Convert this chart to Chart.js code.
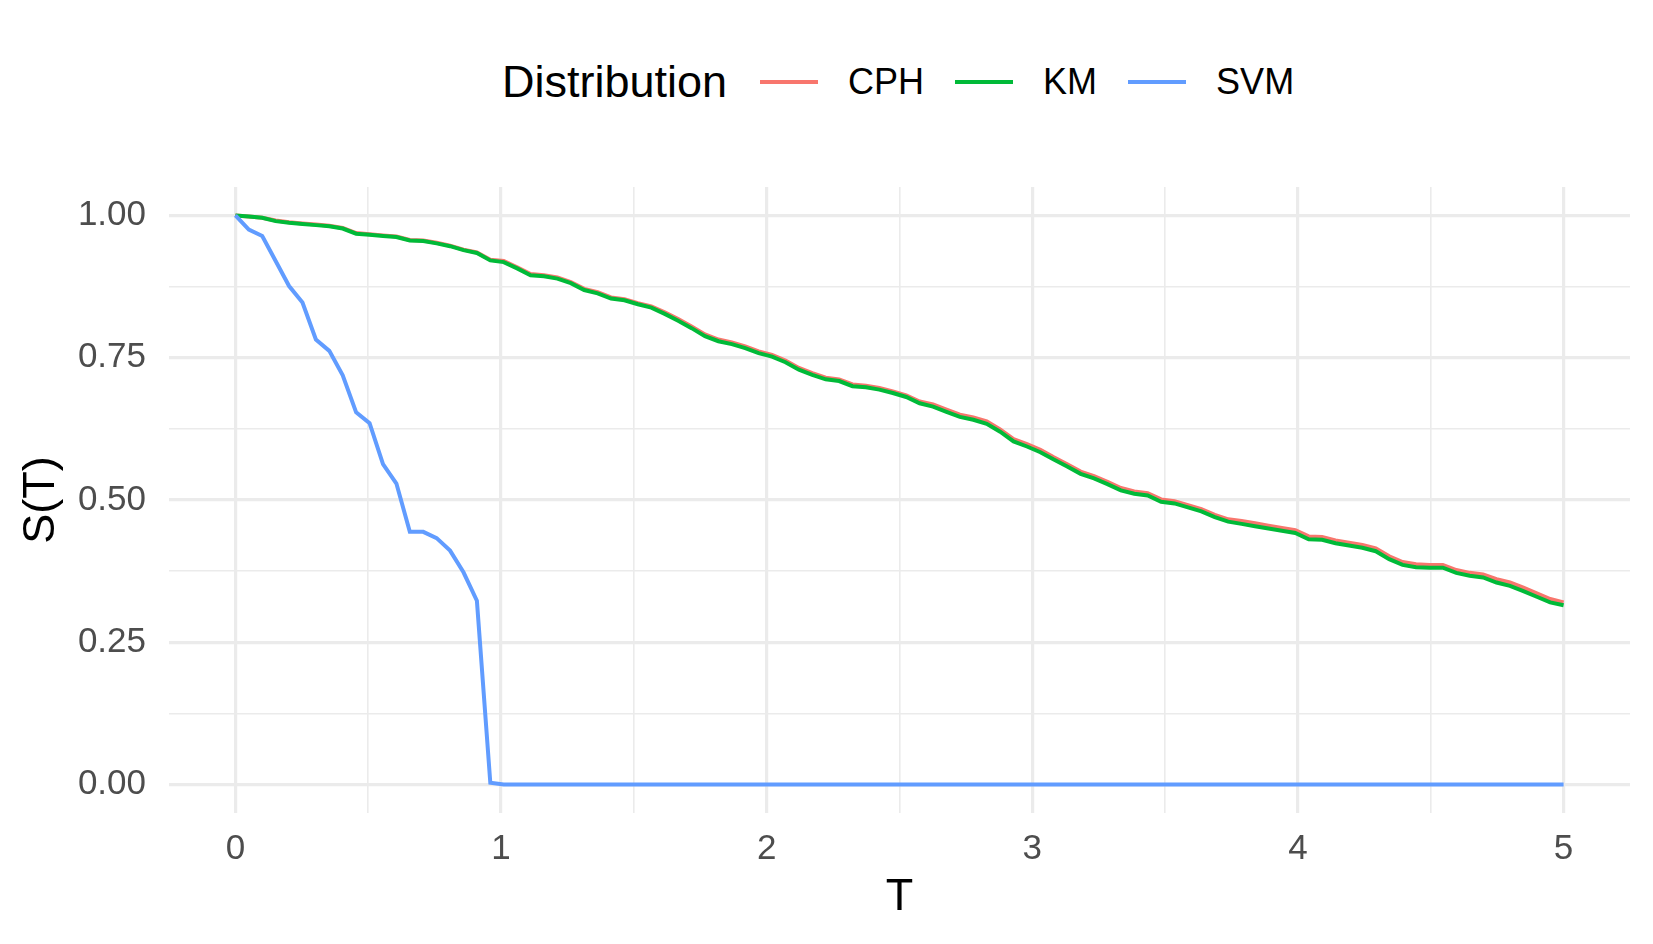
<!DOCTYPE html>
<html>
<head>
<meta charset="utf-8">
<title>S(T)</title>
<script src="https://cdn.jsdelivr.net/npm/chart.js@4.4.1/dist/chart.umd.min.js"></script>
<style>
  body { margin: 0; background: #fff; }
  #wrap { position: relative; width: 1653px; height: 944px; font-family: "Liberation Sans", Arial, sans-serif; }
  #legend { position: absolute; left: 502px; top: 52px; height: 60px; display: flex; align-items: center; }
  #legend .title { font-size: 45px; color: #000; }
  #legend .key { display: inline-block; width: 58px; height: 4px; margin-left: 31px; }
  #legend .key.first { margin-left: 33px; }
  #legend .lab { font-size: 36px; color: #000; margin-left: 30px; }
  canvas { position: absolute; left: 0; top: 0; }
</style>
</head>
<body>
<div id="wrap">
  <div id="legend"></div>
  <canvas id="survChart" width="1653" height="944"></canvas>
</div>
<script>
// Temps (grille de 100 points sur [0, 5])
const times = [
  0, 0.0505, 0.1010, 0.1515, 0.2020, 0.2525, 0.3030, 0.3535, 0.4040, 0.4545,
  0.5051, 0.5556, 0.6061, 0.6566, 0.7071, 0.7576, 0.8081, 0.8586, 0.9091, 0.9596,
  1.0101, 1.0606, 1.1111, 1.1616, 1.2121, 1.2626, 1.3131, 1.3636, 1.4141, 1.4646,
  1.5152, 1.5657, 1.6162, 1.6667, 1.7172, 1.7677, 1.8182, 1.8687, 1.9192, 1.9697,
  2.0202, 2.0707, 2.1212, 2.1717, 2.2222, 2.2727, 2.3232, 2.3737, 2.4242, 2.4747,
  2.5253, 2.5758, 2.6263, 2.6768, 2.7273, 2.7778, 2.8283, 2.8788, 2.9293, 2.9798,
  3.0303, 3.0808, 3.1313, 3.1818, 3.2323, 3.2828, 3.3333, 3.3838, 3.4343, 3.4848,
  3.5354, 3.5859, 3.6364, 3.6869, 3.7374, 3.7879, 3.8384, 3.8889, 3.9394, 3.9899,
  4.0404, 4.0909, 4.1414, 4.1919, 4.2424, 4.2929, 4.3434, 4.3939, 4.4444, 4.4949,
  4.5455, 4.5960, 4.6465, 4.6970, 4.7475, 4.7980, 4.8485, 4.8990, 4.9495, 5
];

// Courbes de survie
const cph = [
  1.000, 0.998, 0.996, 0.991, 0.988, 0.986, 0.984, 0.982, 0.978, 0.969,
  0.967, 0.965, 0.963, 0.957, 0.956, 0.952, 0.947, 0.940, 0.935, 0.922,
  0.920, 0.909, 0.897, 0.895, 0.891, 0.883, 0.871, 0.865, 0.856, 0.853,
  0.846, 0.840, 0.830, 0.818, 0.805, 0.791, 0.782, 0.777, 0.770, 0.761,
  0.755, 0.745, 0.732, 0.723, 0.715, 0.712, 0.703, 0.701, 0.697, 0.691,
  0.684, 0.673, 0.668, 0.659, 0.650, 0.645, 0.638, 0.624, 0.607, 0.598,
  0.588, 0.575, 0.563, 0.550, 0.542, 0.532, 0.521, 0.515, 0.512, 0.501,
  0.498, 0.491, 0.484, 0.474, 0.466, 0.463, 0.459, 0.455, 0.451, 0.447,
  0.436, 0.435, 0.429, 0.425, 0.421, 0.415, 0.401, 0.391, 0.387, 0.386,
  0.386, 0.377, 0.372, 0.369, 0.361, 0.355, 0.346, 0.336, 0.326, 0.320
];
const km = [
  1.000, 0.998, 0.996, 0.990, 0.987, 0.985, 0.983, 0.981, 0.977, 0.968,
  0.966, 0.964, 0.962, 0.956, 0.955, 0.951, 0.946, 0.939, 0.934, 0.921,
  0.918, 0.907, 0.895, 0.893, 0.889, 0.881, 0.869, 0.863, 0.854, 0.851,
  0.844, 0.838, 0.827, 0.815, 0.802, 0.788, 0.779, 0.774, 0.767, 0.758,
  0.752, 0.742, 0.729, 0.720, 0.712, 0.709, 0.700, 0.698, 0.694, 0.688,
  0.681, 0.670, 0.664, 0.655, 0.646, 0.641, 0.634, 0.620, 0.603, 0.594,
  0.584, 0.571, 0.559, 0.546, 0.538, 0.528, 0.517, 0.511, 0.508, 0.497,
  0.494, 0.487, 0.480, 0.470, 0.462, 0.458, 0.454, 0.450, 0.446, 0.442,
  0.431, 0.430, 0.424, 0.420, 0.416, 0.410, 0.396, 0.386, 0.382, 0.381,
  0.381, 0.372, 0.367, 0.364, 0.355, 0.349, 0.340, 0.330, 0.320, 0.315
];
const svm = [
  1.000, 0.975, 0.964, 0.920, 0.876, 0.847, 0.782, 0.762, 0.719, 0.654,
  0.635, 0.563, 0.529, 0.444, 0.444, 0.433, 0.411, 0.373, 0.323, 0.003,
  0, 0, 0, 0, 0, 0, 0, 0, 0, 0,
  0, 0, 0, 0, 0, 0, 0, 0, 0, 0,
  0, 0, 0, 0, 0, 0, 0, 0, 0, 0,
  0, 0, 0, 0, 0, 0, 0, 0, 0, 0,
  0, 0, 0, 0, 0, 0, 0, 0, 0, 0,
  0, 0, 0, 0, 0, 0, 0, 0, 0, 0,
  0, 0, 0, 0, 0, 0, 0, 0, 0, 0,
  0, 0, 0, 0, 0, 0, 0, 0, 0, 0
];

const seriesNames = ['CPH', 'KM', 'SVM'];
const seriesColors = ['#F8766D', '#00BA38', '#619CFF'];

// Graduations
const xMajor = [0, 1, 2, 3, 4, 5];
const xMinor = [0.5, 1.5, 2.5, 3.5, 4.5];
const yMajor = [0, 0.25, 0.5, 0.75, 1];
const yMinor = [0.125, 0.375, 0.625, 0.875];
const yLabels = ['0.00', '0.25', '0.50', '0.75', '1.00'];

// Légende (HTML)
const legendEl = document.getElementById('legend');
legendEl.innerHTML = '<span class="title">Distribution</span>' +
  seriesNames.map((n, i) =>
    '<span class="key' + (i === 0 ? ' first' : '') + '" style="background:' + seriesColors[i] + '"></span>' +
    '<span class="lab">' + n + '</span>').join('');

const toPoints = vals => times.map((t, i) => ({ x: t, y: vals[i] }));
const allSeries = [cph, km, svm];

const gridColor = '#EBEBEB';
const tickFont = { family: '"Liberation Sans", Arial, sans-serif', size: 35 };
const titleFont = { family: '"Liberation Sans", Arial, sans-serif', size: 45 };

const ctx = document.getElementById('survChart').getContext('2d');
new Chart(ctx, {
  type: 'line',
  data: {
    datasets: seriesNames.map((n, i) => ({
      label: n,
      data: toPoints(allSeries[i]),
      borderColor: seriesColors[i],
      borderWidth: 4,
      pointRadius: 0,
      tension: 0,
      fill: false,
      order: 3 - i
    }))
  },
  options: {
    responsive: false,
    animation: false,
    devicePixelRatio: 1,
    layout: { padding: { left: 15, right: 23, top: 187, bottom: 19 } },
    plugins: {
      legend: { display: false },
      tooltip: { enabled: false }
    },
    scales: {
      x: {
        type: 'linear',
        min: -0.25,
        max: 5.25,
        afterBuildTicks: s => { s.ticks = xMajor.concat(xMinor).sort((a, b) => a - b).map(v => ({ value: v })); },
        afterFit: s => { s.height = 112; },
        border: { display: false },
        grid: {
          color: gridColor,
          drawTicks: false,
          lineWidth: c => xMajor.includes(c.tick.value) ? 3.2 : 1.6
        },
        ticks: {
          autoSkip: false,
          maxRotation: 0,
          padding: 15,
          color: '#4D4D4D',
          font: tickFont,
          callback: v => xMajor.includes(v) ? String(v) : ''
        },
        title: { display: true, text: 'T', color: '#000', font: titleFont, padding: { top: 0, bottom: 0 } }
      },
      y: {
        type: 'linear',
        min: -0.05,
        max: 1.05,
        afterBuildTicks: s => { s.ticks = yMajor.concat(yMinor).sort((a, b) => a - b).map(v => ({ value: v })); },
        afterFit: s => { s.width = 154; },
        border: { display: false },
        grid: {
          color: gridColor,
          drawTicks: false,
          lineWidth: c => yMajor.includes(c.tick.value) ? 3.2 : 1.6
        },
        ticks: {
          autoSkip: false,
          padding: 23,
          color: '#4D4D4D',
          font: tickFont,
          callback: v => { const k = yMajor.indexOf(v); return k >= 0 ? yLabels[k] : ''; }
        },
        title: { display: true, text: 'S(T)', color: '#000', font: titleFont, padding: { top: 0, bottom: 10 } }
      }
    }
  }
});
</script>
</body>
</html>
